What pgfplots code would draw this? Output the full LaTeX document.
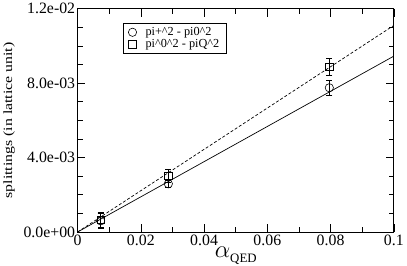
\documentclass[border=0pt]{standalone}
\usepackage{pgfplots}
\pgfplotsset{compat=1.18}
\usepackage{fontspec}
\setmainfont{Liberation Serif}
\begin{document}
\begin{tikzpicture}
\begin{axis}[
  scale only axis, width=320pt, height=226pt,
  xmin=0, xmax=0.1, ymin=0, ymax=0.012,
  xtick={0,0.02,0.04,0.06,0.08,0.1},
  xticklabels={0,0.02,0.04,0.06,0.08,0.1},
  ytick={0,0.004,0.008,0.012},
  yticklabels={0.0e+00,4.0e-03,8.0e-03,1.2e-02},
  minor xtick={0.01,0.03,0.05,0.07,0.09},
  minor ytick={0.001,0.002,0.003,0.005,0.006,0.007,0.009,0.010,0.011},
  scaled ticks=false,
  tick align=inside,
  major tick length=8pt, minor tick length=5pt,
  every tick/.style={black, line width=0.6pt},
  axis line style={line width=0.9pt},
  tick label style={font=\fontsize{16}{17}\selectfont},
  xticklabel style={yshift=1pt},
  yticklabel style={xshift=1pt},
  xlabel={\fontsize{24}{26}\selectfont$\alpha$\raisebox{-0.45ex}{\fontsize{13}{14}\selectfont QED}},
  ylabel={\scalebox{1}[0.8]{\fontsize{16}{18}\selectfont splittings (in lattice unit)}},
  xlabel style={yshift=3pt, inner ysep=1pt},
  ylabel style={yshift=2pt},
  legend style={at={(0.144,0.937)}, anchor=north west, draw=black, line width=0.6pt,
    font=\fontsize{12.4}{13}\selectfont, row sep=-1.5pt, inner xsep=5pt, inner ysep=2.5pt,
    /tikz/every odd column/.style={column sep=7pt}},
  legend cell align=left,
]
\addplot[black, line width=0.6pt, only marks, mark=o, mark size=4.2pt,
  error bars/.cd, y dir=both, y explicit, error mark options={rotate=90, mark size=3pt, line width=0.5pt}, error bar style={line width=0.5pt}]
  coordinates {
  (0.0073,0.00060) +- (0,0.00040)
  (0.0287,0.00259) +- (0,0.00020)
  (0.0796,0.00775) +- (0,0.00040)
  };
\addlegendentry{pi+\^{}2 - pi0\^{}2}
\addplot[black, line width=0.6pt, only marks, mark=square, mark size=3.8pt,
  error bars/.cd, y dir=both, y explicit, error mark options={rotate=90, mark size=3pt, line width=0.5pt}, error bar style={line width=0.5pt}]
  coordinates {
  (0.0073,0.00065) +- (0,0.00042)
  (0.0287,0.00303) +- (0,0.00036)
  (0.0796,0.00887) +- (0,0.00047)
  };
\addlegendentry{pi\^{}0\^{}2 - piQ\^{}2}
\addplot[black, line width=0.7pt, forget plot] coordinates {(0,0) (0.1,0.00945)};
\addplot[black, line width=0.7pt, dashed, dash pattern=on 3pt off 2pt, forget plot] coordinates {(0,0) (0.1,0.0111)};
\end{axis}
\end{tikzpicture}
\end{document}
